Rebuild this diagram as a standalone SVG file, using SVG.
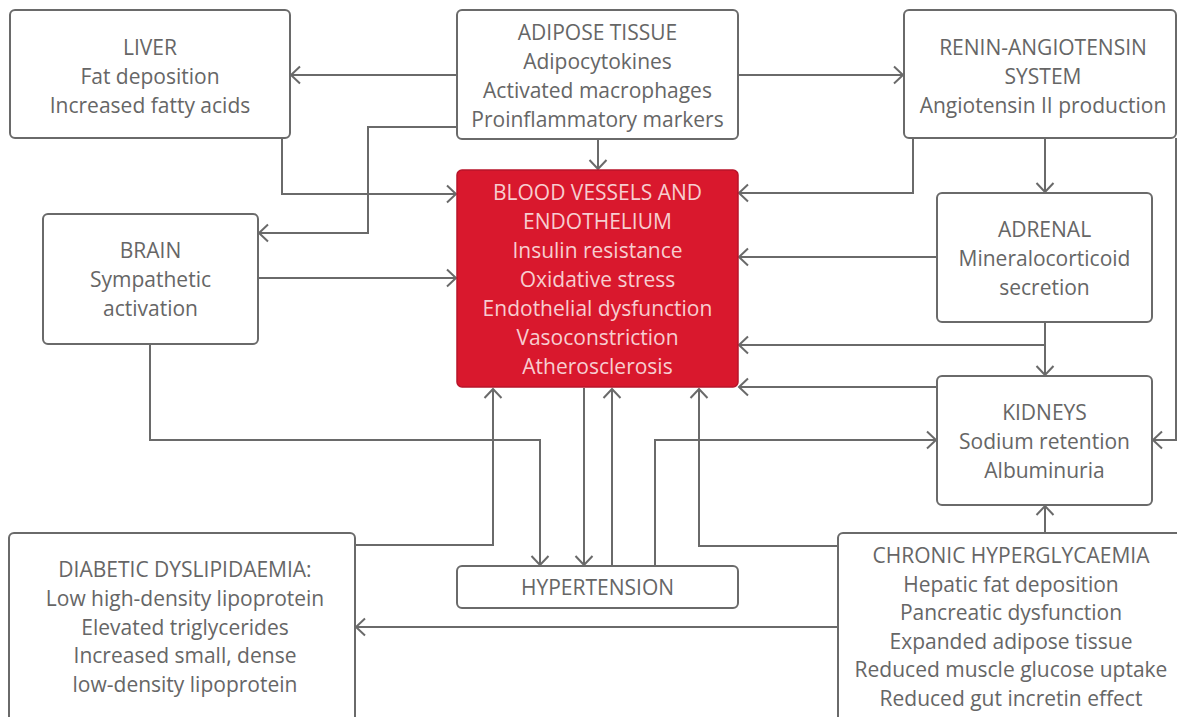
<svg xmlns="http://www.w3.org/2000/svg" width="1177" height="717" viewBox="0 0 1177 717">
<style>
.box{fill:#ffffff;stroke:#6a6a6a;stroke-width:2}
.red{fill:#d9182d;stroke:#b8142a;stroke-width:1.5}
.t{font-family:"Open Sans","Liberation Sans",sans-serif;font-size:21px;fill:#666666;text-anchor:middle}
.w{fill:#f7cdd0}
.c{fill:none;stroke:#6a6a6a;stroke-width:2;marker-end:url(#ah)}
.n{fill:none;stroke:#6a6a6a;stroke-width:2}
</style>
<defs>
<marker id="ah" markerUnits="userSpaceOnUse" markerWidth="14" markerHeight="22" refX="11" refY="10" orient="auto">
<path d="M2,1.5 L11,10 L2,18.5" fill="none" stroke="#6a6a6a" stroke-width="2"/>
</marker>
</defs>
<rect width="1177" height="717" fill="#ffffff"/>
<g id="connectors">
<path class="c" d="M457,75 H291"/>
<path class="c" d="M738,75 H903"/>
<path class="c" d="M457,127 H368 V233 H259"/>
<path class="c" d="M598,139 V169"/>
<path class="c" d="M282,138 V194 H456"/>
<path class="c" d="M258,278 H456"/>
<path class="c" d="M150,344 V440 H540 V565"/>
<path class="c" d="M913,138 V193 H739"/>
<path class="c" d="M1045,138 V192"/>
<path class="c" d="M1176,138 V440 H1153"/>
<path class="c" d="M937,257 H739"/>
<path class="c" d="M1045,322 V375"/>
<path class="c" d="M1045,345 H739"/>
<path class="c" d="M937,387 H739"/>
<path class="c" d="M584,388 V565"/>
<path class="c" d="M612,566 V389"/>
<path class="c" d="M655,566 V440 H936"/>
<path class="c" d="M355,545 H493 V389"/>
<path class="c" d="M838,546 H699 V389"/>
<path class="c" d="M1045,533 V506"/>
<path class="c" d="M838,627 H356"/>
</g>
<g id="liver">
<rect class="box" x="10" y="10" width="280" height="128" rx="5"/>
<text class="t" x="150" y="55">LIVER</text>
<text class="t" x="150" y="84">Fat deposition</text>
<text class="t" x="150" y="113">Increased fatty acids</text>
</g>
<g id="adipose">
<rect class="box" x="457" y="10" width="281" height="129" rx="5"/>
<text class="t" x="597.5" y="40">ADIPOSE TISSUE</text>
<text class="t" x="597.5" y="69">Adipocytokines</text>
<text class="t" x="597.5" y="98">Activated macrophages</text>
<text class="t" x="597.5" y="127">Proinflammatory markers</text>
</g>
<g id="ras">
<rect class="box" x="904" y="10" width="272" height="128" rx="5"/>
<text class="t" x="1043" y="55">RENIN-ANGIOTENSIN</text>
<text class="t" x="1043" y="84">SYSTEM</text>
<text class="t" x="1043" y="113">Angiotensin II production</text>
</g>
<g id="blood-vessels">
<rect class="red" x="457" y="170" width="281" height="217" rx="5"/>
<text class="t w" x="597.5" y="200">BLOOD VESSELS AND</text>
<text class="t w" x="597.5" y="229">ENDOTHELIUM</text>
<text class="t w" x="597.5" y="258">Insulin resistance</text>
<text class="t w" x="597.5" y="287">Oxidative stress</text>
<text class="t w" x="597.5" y="316">Endothelial dysfunction</text>
<text class="t w" x="597.5" y="345">Vasoconstriction</text>
<text class="t w" x="597.5" y="374">Atherosclerosis</text>
</g>
<g id="brain">
<rect class="box" x="43" y="214" width="215" height="130" rx="5"/>
<text class="t" x="150.5" y="258">BRAIN</text>
<text class="t" x="150.5" y="287">Sympathetic</text>
<text class="t" x="150.5" y="316">activation</text>
</g>
<g id="adrenal">
<rect class="box" x="937" y="193" width="215" height="129" rx="5"/>
<text class="t" x="1044.5" y="237">ADRENAL</text>
<text class="t" x="1044.5" y="266">Mineralocorticoid</text>
<text class="t" x="1044.5" y="295">secretion</text>
</g>
<g id="kidneys">
<rect class="box" x="937" y="376" width="215" height="129" rx="5"/>
<text class="t" x="1044.5" y="420">KIDNEYS</text>
<text class="t" x="1044.5" y="449">Sodium retention</text>
<text class="t" x="1044.5" y="478">Albuminuria</text>
</g>
<g id="hypertension">
<rect class="box" x="457" y="566" width="281" height="42" rx="5"/>
<text class="t" x="597.5" y="595">HYPERTENSION</text>
</g>
<g id="dyslipidaemia">
<rect class="box" x="9" y="533" width="346" height="220" rx="5"/>
<text class="t" x="185" y="577">DIABETIC DYSLIPIDAEMIA:</text>
<text class="t" x="185" y="606">Low high-density lipoprotein</text>
<text class="t" x="185" y="635">Elevated triglycerides</text>
<text class="t" x="185" y="663">Increased small, dense</text>
<text class="t" x="185" y="692">low-density lipoprotein</text>
</g>
<g id="hyperglycaemia">
<rect class="box" x="838" y="533" width="400" height="220" rx="5"/>
<text class="t" x="1011" y="563">CHRONIC HYPERGLYCAEMIA</text>
<text class="t" x="1011" y="592">Hepatic fat deposition</text>
<text class="t" x="1011" y="620">Pancreatic dysfunction</text>
<text class="t" x="1011" y="649">Expanded adipose tissue</text>
<text class="t" x="1011" y="677">Reduced muscle glucose uptake</text>
<text class="t" x="1011" y="706">Reduced gut incretin effect</text>
</g>
</svg>
